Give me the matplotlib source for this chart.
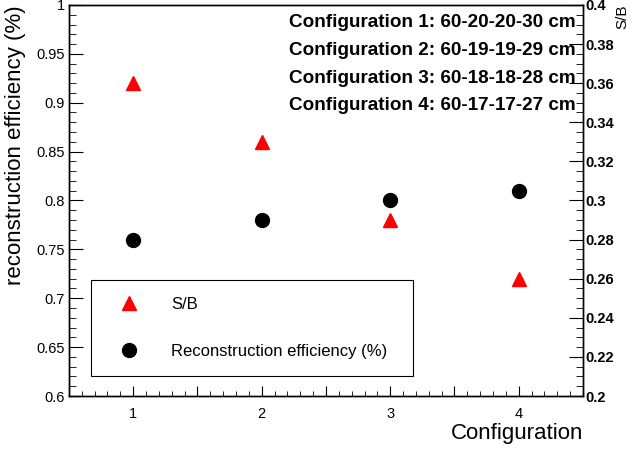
import numpy as np
import matplotlib.pyplot as plt
from matplotlib.ticker import MultipleLocator

plt.rcParams['font.family'] = ['Liberation Sans', 'DejaVu Sans']

configs = [1, 2, 3, 4]
efficiency = [0.76, 0.78, 0.80, 0.81]
s_over_b = [0.36, 0.33, 0.29, 0.26]
config_lines = [
    "Configuration 1: 60-20-20-30 cm",
    "Configuration 2: 60-19-19-29 cm",
    "Configuration 3: 60-18-18-28 cm",
    "Configuration 4: 60-17-17-27 cm",
]
x_ticks = np.arange(0.5, 4.51, 0.5)
eff_ticks = np.arange(0.6, 1.001, 0.05)
sb_ticks = np.arange(0.2, 0.401, 0.02)

fig = plt.figure(figsize=(6.32, 4.5), dpi=100)
ax = fig.add_axes([0.109, 0.12, 0.8135, 0.869])
ax2 = ax.twinx()

# efficiency on the left axis
ax.plot(configs, efficiency, 'o', color='black', markersize=10, linestyle='none')
ax.set_xlim(0.5, 4.5)
ax.set_ylim(0.6, 1.0)

# S/B on the right axis
ax2.plot(configs, s_over_b, '^', color='red', markersize=10, linestyle='none')
ax2.set_ylim(0.2, 0.4)

def fmt(v):
    return ('%.2f' % v).rstrip('0').rstrip('.')

# ticks in ROOT style
ax.set_xticks(x_ticks)
ax.set_xticklabels(['' if v % 1 else str(int(v)) for v in x_ticks])
ax.xaxis.set_minor_locator(MultipleLocator(0.1))
ax.set_yticks(eff_ticks)
ax.set_yticklabels([fmt(v) for v in eff_ticks])
ax.yaxis.set_minor_locator(MultipleLocator(0.01))
ax.tick_params(which='both', direction='in', top=False, right=False, labelsize=10.5, pad=3)
ax.tick_params(axis='y', which='major', length=10)
ax.tick_params(axis='y', which='minor', length=5)
ax.tick_params(axis='x', which='major', length=7, pad=8)
ax.tick_params(axis='x', which='minor', length=3.5)

ax2.set_yticks(sb_ticks)
ax2.set_yticklabels([fmt(v) for v in sb_ticks], fontweight='bold')
ax2.yaxis.set_minor_locator(MultipleLocator(0.005))
ax2.tick_params(which='both', direction='in', labelsize=10.5, pad=2)
ax2.tick_params(which='major', length=10)
ax2.tick_params(which='minor', length=5)

for a in (ax, ax2):
    for s in a.spines.values():
        s.set_linewidth(1.0)

ax.set_ylabel('reconstruction efficiency (%)', fontsize=16, loc='top')
ax.yaxis.set_label_coords(-0.084, 1.0)
ax.set_xlabel('Configuration', fontsize=16, loc='right', labelpad=1)
ax2.text(1.076, 1.0, 'S/B', transform=ax2.transAxes, rotation=90,
         ha='center', va='top', fontsize=11)

for i, line in enumerate(config_lines):
    ax.text(0.985, 0.954 - i * 0.0708, line, transform=ax.transAxes, ha='right', va='center',
            fontsize=13.6, fontweight='bold')

# legend
h_sb, = ax.plot([], [], '^', color='red', markersize=10, linestyle='none')
h_eff, = ax.plot([], [], 'o', color='black', markersize=10, linestyle='none')
leg = ax.legend([h_sb, h_eff], ['S/B', 'Reconstruction efficiency (%)'],
                loc='upper left', bbox_to_anchor=(0.0428, 0.2966, 0.626, 0),
                mode='expand', fancybox=False, edgecolor='black', framealpha=1,
                fontsize=12, handlelength=2.6, handletextpad=1.2, labelspacing=1.95,
                borderpad=1.0, borderaxespad=0)
leg.get_frame().set_linewidth(0.8)

fig.savefig('out.png', dpi=100)
